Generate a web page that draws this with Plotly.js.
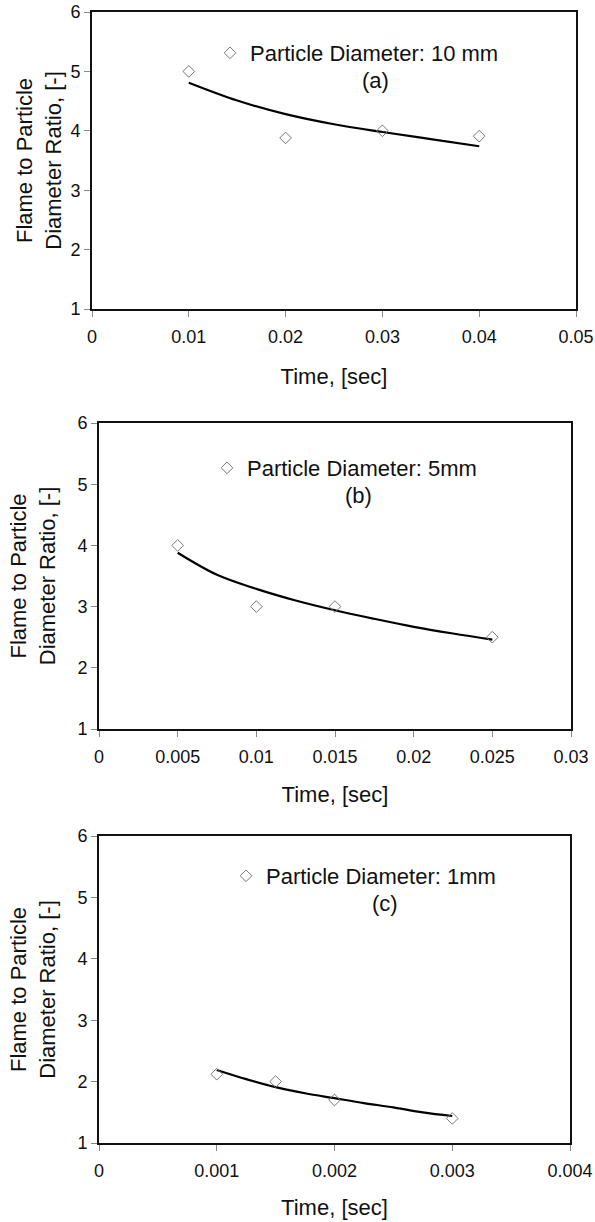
<!DOCTYPE html>
<html>
<head>
<meta charset="utf-8">
<script src="https://cdn.plot.ly/plotly-3.0.1.min.js"></script>
<style>html,body{margin:0;padding:0;background:#fff;}#chart{width:595px;height:1222px;}</style>
</head>
<body>
<div id="chart"></div>
<script>
// Panel (a): particle diameter 10 mm
const timeA = [0.01, 0.02, 0.03, 0.04];
const ratioA = [5.0, 3.88, 4.0, 3.91];
const fitTimeA = [0.01, 0.015, 0.02, 0.025, 0.03, 0.035, 0.04];
const fitRatioA = [4.81, 4.51, 4.28, 4.11, 3.98, 3.86, 3.74];
const xTicksA = [0, 0.01, 0.02, 0.03, 0.04, 0.05];
const xLabelsA = ["0", "0.01", "0.02", "0.03", "0.04", "0.05"];

// Panel (b): particle diameter 5 mm
const timeB = [0.005, 0.01, 0.015, 0.025];
const ratioB = [4.0, 3.0, 3.0, 2.5];
const fitTimeB = [0.005, 0.0075, 0.01, 0.0125, 0.015, 0.0175, 0.02, 0.0225, 0.025];
const fitRatioB = [3.88, 3.52, 3.29, 3.10, 2.94, 2.80, 2.67, 2.56, 2.46];
const xTicksB = [0, 0.005, 0.01, 0.015, 0.02, 0.025, 0.03];
const xLabelsB = ["0", "0.005", "0.01", "0.015", "0.02", "0.025", "0.03"];

// Panel (c): particle diameter 1 mm
const timeC = [0.001, 0.0015, 0.002, 0.003];
const ratioC = [2.12, 2.0, 1.70, 1.40];
const fitTimeC = [0.001, 0.00125, 0.0015, 0.00175, 0.002, 0.00225, 0.0025, 0.00275, 0.003];
const fitRatioC = [2.19, 2.04, 1.91, 1.81, 1.73, 1.65, 1.58, 1.50, 1.44];
const xTicksC = [0, 0.001, 0.002, 0.003, 0.004];
const xLabelsC = ["0", "0.001", "0.002", "0.003", "0.004"];

const yTicks = [1, 2, 3, 4, 5, 6];
const yLabels = ["1", "2", "3", "4", "5", "6"];

const legendNames = ["Particle Diameter: 10 mm", "Particle Diameter: 5mm", "Particle Diameter: 1mm"];
const panelTags = ["(a)", "(b)", "(c)"];
const xTitle = "Time, [sec]";
const yTitle = "Flame to Particle<br>Diameter Ratio, [-]";

const W = 595, H = 1222;
const FONT = "Liberation Sans, Arial, Helvetica, sans-serif";

// pixel boxes of the three plot areas [left, right, top, bottom]
const boxes = [[92, 576, 12, 309], [99, 571, 423, 729], [99, 570, 836, 1143]];
const legendPos = [[210, 32], [207, 447], [226, 855]];
const tagPos = [[375, 80], [358, 495], [385, 904]];
const yTitleStandoff = [3, 16, 16];
const xTitleStandoff = [23, 21, 20];

const panels = [
  {t: timeA, r: ratioA, ft: fitTimeA, fr: fitRatioA, xt: xTicksA, xl: xLabelsA, xr: [0, 0.05]},
  {t: timeB, r: ratioB, ft: fitTimeB, fr: fitRatioB, xt: xTicksB, xl: xLabelsB, xr: [0, 0.03]},
  {t: timeC, r: ratioC, ft: fitTimeC, fr: fitRatioC, xt: xTicksC, xl: xLabelsC, xr: [0, 0.004]}
];

const data = [];
const layout = {
  width: W, height: H,
  margin: {l: 0, r: 0, t: 0, b: 0},
  paper_bgcolor: "#fff", plot_bgcolor: "#fff",
  font: {family: FONT, color: "#111", size: 18},
  showlegend: true,
  annotations: []
};

panels.forEach((p, i) => {
  const n = i === 0 ? "" : String(i + 1);
  const xa = "x" + n, ya = "y" + n;
  const lg = "legend" + n;
  data.push({
    x: p.ft, y: p.fr, xaxis: xa, yaxis: ya, type: "scatter", mode: "lines",
    line: {color: "#000", width: 2.2, shape: "spline"}, showlegend: false, hoverinfo: "skip"
  });
  data.push({
    x: p.t, y: p.r, xaxis: xa, yaxis: ya, type: "scatter", mode: "markers",
    name: legendNames[i], legend: lg,
    marker: {symbol: "diamond-open", size: 9, color: "#777", line: {color: "#777", width: 1}}
  });
  const b = boxes[i];
  layout["xaxis" + n] = {
    domain: [b[0] / W, b[1] / W], anchor: ya, range: p.xr,
    tickmode: "array", tickvals: p.xt, ticktext: p.xl,
    ticks: "outside", ticklen: 6, tickwidth: 1, tickcolor: "#888",
    ticklabelstandoff: 4,
    showline: true, linecolor: "#111", linewidth: 2, mirror: true,
    showgrid: false, zeroline: false,
    tickfont: {size: 18, color: "#111", family: FONT},
    title: {text: xTitle, font: {size: 22, color: "#111", family: FONT}, standoff: xTitleStandoff[i]}
  };
  layout["yaxis" + n] = {
    domain: [1 - b[3] / H, 1 - b[2] / H], anchor: xa, range: [1, 6],
    tickmode: "array", tickvals: yTicks, ticktext: yLabels,
    ticks: "outside", ticklen: 6, tickwidth: 1, tickcolor: "#888",
    showline: true, linecolor: "#111", linewidth: 2, mirror: true,
    showgrid: false, zeroline: false,
    tickfont: {size: 18, color: "#111", family: FONT},
    title: {text: yTitle, font: {size: 22, color: "#111", family: FONT}, standoff: yTitleStandoff[i]}
  };
  const lp = legendPos[i];
  layout[lg] = {
    x: lp[0] / W, y: 1 - lp[1] / H, xanchor: "left", yanchor: "top",
    bgcolor: "rgba(0,0,0,0)", borderwidth: 0, itemwidth: 30,
    font: {size: 22, color: "#111", family: FONT}
  };
  const tp = tagPos[i];
  layout.annotations.push({
    text: panelTags[i], xref: "paper", yref: "paper",
    x: tp[0] / W, y: 1 - tp[1] / H, xanchor: "center", yanchor: "middle",
    showarrow: false, font: {size: 22, color: "#111", family: FONT}
  });
});

Plotly.newPlot("chart", data, layout, {staticPlot: true, displayModeBar: false});
</script>
</body>
</html>
